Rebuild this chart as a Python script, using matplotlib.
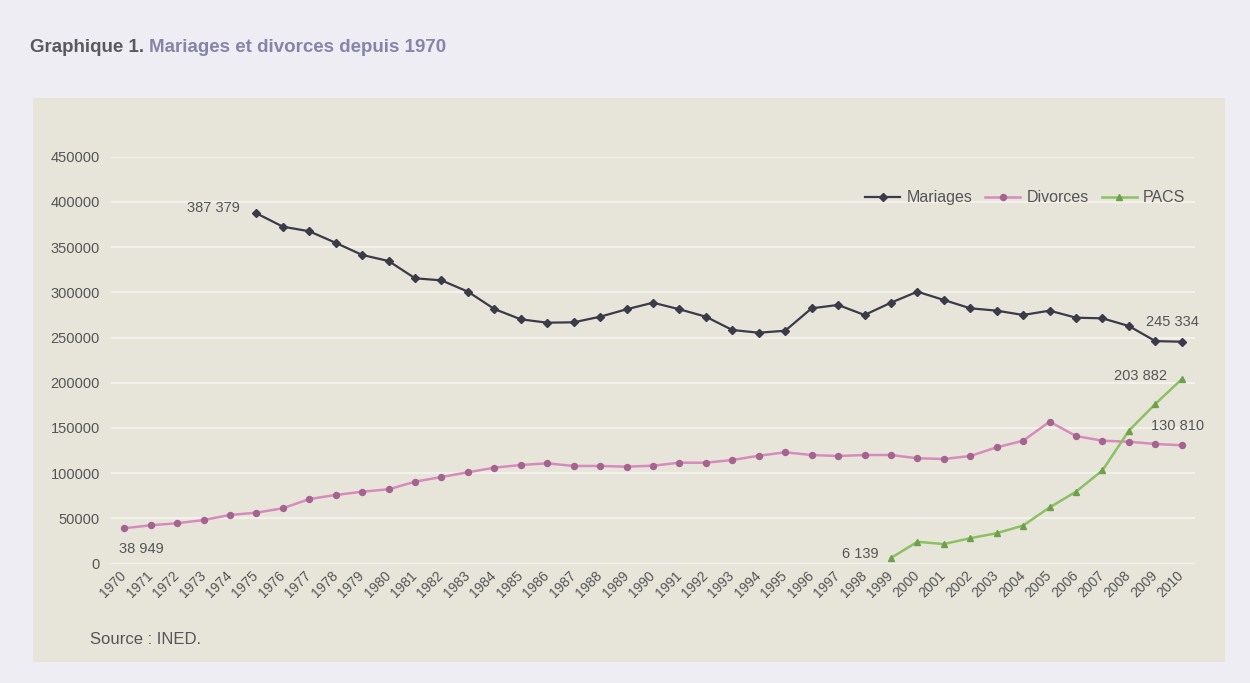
import matplotlib
matplotlib.use("Agg")
import matplotlib.pyplot as plt

YEARS = list(range(1970, 2011))
MAR_YEARS = list(range(1975, 2011))
MARIAGES = [387379, 372600, 367500, 354700, 341300, 334600, 315500, 313200,
            300700, 281500, 270100, 266400, 266800, 273000, 281200, 288500,
            281200, 273000, 258300, 255300, 257500, 282300, 286000, 274900,
            288500, 300700, 291500, 282300, 279700, 274900, 279700, 271900,
            271200, 262700, 246000, 245334]
DIVORCES = [38949, 42300, 44500, 48100, 53700, 56200, 61100, 71300, 75800,
            79400, 82100, 90500, 95700, 100900, 106000, 109000, 110800,
            107900, 107900, 107100, 108200, 111500, 111500, 114500, 119200,
            123000, 120000, 118900, 120000, 120000, 116400, 115600, 118900,
            128500, 135800, 156900, 141000, 135800, 134700, 132200, 130810]
PACS_YEARS = list(range(1999, 2011))
PACS = [6139, 24000, 21500, 28000, 33500, 42000, 62000, 79500, 103000,
        147000, 176500, 203882]
Y_TICKS = list(range(0, 450001, 50000))

PAGE = "#efedf4"
PANEL = "#e7e5da"
GRID = "#f3f1ec"
TXT = "#555555"
C_MAR = "#3b3a48"
C_DIV = "#d78bbd"
C_DIV_M = "#a4648f"
C_PACS = "#8cc063"
C_PACS_M = "#6e9f4a"
SANS = ["Liberation Sans", "DejaVu Sans"]

fig = plt.figure(figsize=(12.5, 6.83), dpi=100, facecolor=PAGE)

# beige panel behind the chart
panel = fig.add_axes([33 / 1250, 1 - 662 / 683, (1225 - 33) / 1250,
                      (662 - 98) / 683])
panel.set_facecolor(PANEL)
panel.set_xticks([])
panel.set_yticks([])
for s in panel.spines.values():
    s.set_visible(False)

ax = fig.add_axes([111 / 1250, 1 - 563.5 / 683, (1195 - 111) / 1250,
                   (563.5 - 156.7) / 683])
ax.set_facecolor("none")
for s in ax.spines.values():
    s.set_visible(False)
ax.set_xlim(1969.5, 2010.5)
ax.set_ylim(0, 450000)
ax.set_yticks(Y_TICKS)
ax.set_yticklabels([str(v) for v in Y_TICKS], family=SANS, fontsize=10.5,
                   color=TXT)
ax.set_xticks(YEARS)
ax.set_xticklabels([str(y) for y in YEARS], rotation=45, ha="right",
                   va="center", rotation_mode="anchor", family=SANS,
                   fontsize=10, color=TXT)
ax.tick_params(length=0, axis="y", pad=8)
ax.tick_params(length=0, axis="x", pad=7)
ax.grid(axis="y", color=GRID, lw=1.6, zorder=0)
ax.set_axisbelow(True)

ax.plot(MAR_YEARS, MARIAGES, color=C_MAR, lw=1.6, marker="D", ms=4,
        mfc=C_MAR, mec=C_MAR, label="Mariages", zorder=3)
ax.plot(YEARS, DIVORCES, color=C_DIV, lw=1.8, marker="o", ms=4.3,
        mfc=C_DIV_M, mec=C_DIV_M, label="Divorces", zorder=3)
ax.plot(PACS_YEARS, PACS, color=C_PACS, lw=1.8, marker="^", ms=4.5,
        mfc=C_PACS_M, mec=C_PACS_M, label="PACS", zorder=3)

lab = dict(family=SANS, fontsize=10.5, color=TXT)
ax.annotate("387 379", (MAR_YEARS[0], MARIAGES[0]), xytext=(-12, 4),
            textcoords="offset points", ha="right", va="center", **lab)
ax.annotate("38 949", (YEARS[0], DIVORCES[0]), xytext=(-4, -15),
            textcoords="offset points", ha="left", va="center", **lab)
ax.annotate("6 139", (PACS_YEARS[0], PACS[0]), xytext=(-9, 3),
            textcoords="offset points", ha="right", va="center", **lab)
ax.annotate("203 882", (PACS_YEARS[-1], PACS[-1]), xytext=(-11, 2),
            textcoords="offset points", ha="right", va="center", **lab)
ax.annotate("130 810", (YEARS[-1], DIVORCES[-1]), xytext=(-22, 14),
            textcoords="offset points", ha="left", va="center", **lab)
ax.annotate("245 334", (MAR_YEARS[-1], MARIAGES[-1]), xytext=(-26, 14),
            textcoords="offset points", ha="left", va="center", **lab)

ax.legend(loc="center right", bbox_to_anchor=(1200 / 1250, 1 - 198 / 683),
          bbox_transform=fig.transFigure, ncol=3, frameon=False,
          prop={"family": SANS, "size": 11.5}, handlelength=2.2,
          handletextpad=0.4, columnspacing=0.8, labelcolor=TXT)

# two-colour title: second half starts where the first one ends
t1 = fig.text(30 / 1250, 1 - 48 / 683, "Graphique 1.", family=SANS,
              fontweight="bold", fontsize=13.5, color="#5a5a5e",
              va="center")
fig.canvas.draw()
x_end = t1.get_window_extent().x1 / fig.bbox.width
fig.text(x_end + 5 / 1250, 1 - 48 / 683, "Mariages et divorces depuis 1970",
         family=SANS, fontweight="bold", fontsize=13.5, color="#8784a8",
         va="center")
fig.text(90 / 1250, 1 - 640 / 683, "Source : INED.", family=SANS,
         fontsize=12, color=TXT, va="center")

fig.savefig("out.png", dpi=100, facecolor=PAGE)
